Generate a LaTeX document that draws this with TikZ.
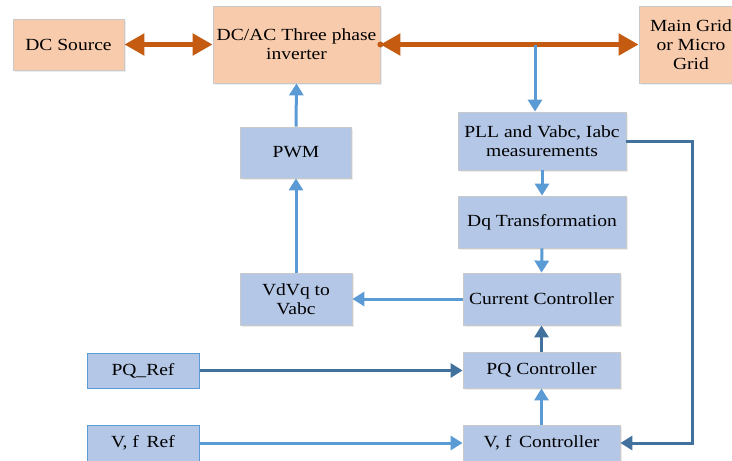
\documentclass[tikz,border=0pt]{standalone}
\usepackage{fontspec}
\setmainfont[FakeStretch=1.15]{Liberation Serif}
\usetikzlibrary{arrows.meta,shadows}
\definecolor{ofill}{HTML}{F8CBAD}
\definecolor{bfill}{HTML}{B4C7E7}
\definecolor{gborder}{HTML}{C9C9C9}
\definecolor{refborder}{HTML}{5B9BD5}
\definecolor{oline}{HTML}{C55A11}
\definecolor{lblue}{HTML}{5B9BD5}
\definecolor{dblue}{HTML}{41719C}
\tikzset{
  x=1pt,y=-1pt,
  box/.style={align=center,inner sep=0pt,font=\fontsize{17}{19}\selectfont,text=black},
  obox/.style={box,fill=ofill,draw=gborder,line width=0.8pt,drop shadow={shadow xshift=1.5pt,shadow yshift=-1.5pt,opacity=0.15}},
  bbox/.style={box,fill=bfill,draw=gborder,line width=0.8pt,drop shadow={shadow xshift=1.5pt,shadow yshift=-1.5pt,opacity=0.15}},
  rbox/.style={box,fill=bfill,draw=refborder,line width=1pt},
  oarrow/.style={draw=oline,line width=5pt,{Triangle[length=20pt,width=21pt]}-{Triangle[length=20pt,width=21pt]}},
  lbarrow/.style={draw=lblue,line width=3pt,-{Triangle[length=12pt,width=14pt]}},
  dbarrow/.style={draw=dblue,line width=3pt,-{Triangle[length=12pt,width=14pt]}},
}
\begin{document}
\begin{tikzpicture}
\useasboundingbox (0,0) rectangle (732,461);
\begin{scope}
\clip (0,0) rectangle (732,461);
\node[obox,minimum width=111pt,minimum height=51pt] (dcs) at (68.5,44.5) {DC Source};
\node[obox,minimum width=167pt,minimum height=77pt] (inv) at (296.5,44.5) {DC/AC Three phase\\inverter};
\node[obox,minimum width=104pt,minimum height=77pt] (grid) at (691,44.5) {Main Grid\\or Micro\\Grid};
\node[bbox,minimum width=168pt,minimum height=58pt] (pll) at (542,141) {PLL and Vabc, Iabc\\measurements};
\node[bbox,minimum width=168pt,minimum height=52pt] (dq) at (542,222) {Dq Transformation};
\node[bbox,minimum width=157pt,minimum height=52pt] (cc) at (541.5,299) {Current Controller};
\node[bbox,minimum width=157pt,minimum height=36pt] (pqc) at (541.5,370) {PQ Controller};
\node[bbox,minimum width=157pt,minimum height=36pt] (vfc) at (541.5,443) {V, f\, Controller};
\node[bbox,minimum width=111pt,minimum height=51pt] (pwm) at (296,152.5) {PWM};
\node[bbox,minimum width=112pt,minimum height=52pt] (vdvq) at (296,299) {VdVq to\\Vabc};
\node[rbox,minimum width=112pt,minimum height=35pt] (pqref) at (143,370.5) {PQ\_Ref};
\node[rbox,minimum width=112pt,minimum height=36pt] (vfref) at (143,443) {V, f\, Ref};
\end{scope}
% power connections
\draw[oarrow] (dcs.east) -- (dcs.east -| inv.west);
\draw[oarrow] (inv.east) -- (inv.east -| grid.west);
\fill[oline] (inv.east) circle (3pt);
% measurement tap
\coordinate (tap) at (535,44.5);
\draw[lbarrow] (tap) -- (tap |- pll.north);
\draw[lbarrow] (pll.south) -- (dq.north);
\draw[lbarrow] (dq.south) -- (cc.north);
\draw[dbarrow] (pqc.north) -- (cc.south);
\draw[lbarrow] (vfc.north) -- (pqc.south);
\draw[lbarrow] (cc.west) -- (vdvq.east);
\draw[lbarrow] (vdvq.north) -- (pwm.south);
\draw[lbarrow] (pwm.north) -- (inv.south);
\draw[dbarrow] (pqref.east) -- (pqref.east -| pqc.west);
\draw[lbarrow] (vfref.east) -- (vfc.west);
\coordinate (rc) at (692,141);
\draw[dbarrow] (pll.east) -- (rc) |- (vfc.east);
\end{tikzpicture}
\end{document}
